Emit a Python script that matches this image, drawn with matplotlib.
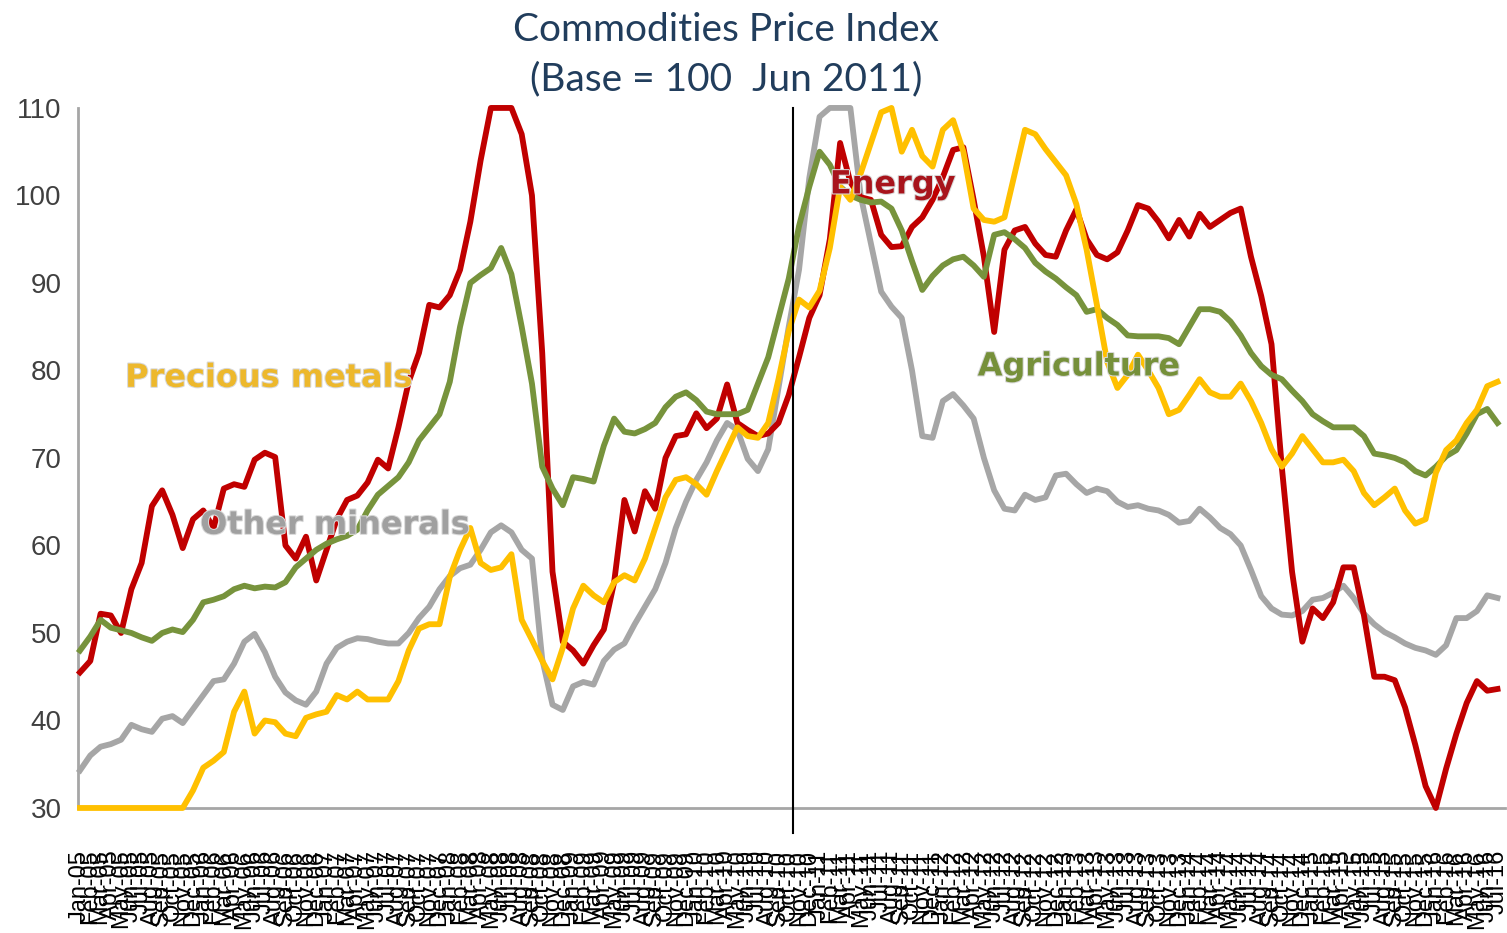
import matplotlib.pyplot as plt
import matplotlib.patheffects as pe
import pandas as pd

plt.rcParams["font.family"] = ["Liberation Sans", "DejaVu Sans"]

# monthly labels, Jan 2005 .. Jul 2016
months = pd.date_range("2005-01-01", periods=139, freq="MS").strftime("%b-%y").tolist()

energy = [
    45.5, 46.8, 52.2, 52.0, 50.0, 55.0, 58.0, 64.5, 66.3, 63.5,
    59.7, 63.0, 64.0, 62.0, 66.5, 67.0, 66.7, 69.8, 70.6, 70.1,
    60.0, 58.5, 61.0, 56.0, 59.5, 63.0, 65.2, 65.7, 67.2, 69.8,
    68.8, 73.5, 78.7, 82.0, 87.5, 87.2, 88.6, 91.5, 97.0, 104.0,
    110.0, 110.0, 110.0, 107.0, 100.0, 82.0, 57.0, 49.0, 48.0, 46.5,
    48.6, 50.4, 55.8, 65.2, 61.6, 66.2, 64.2, 70.0, 72.5, 72.7,
    75.1, 73.4, 74.5, 78.4, 74.0, 73.2, 72.5, 72.8, 74.0, 77.2,
    81.5, 86.0, 88.6, 95.0, 106.0, 101.5, 99.8, 99.5, 95.5, 94.1,
    94.2, 96.4, 97.5, 99.5, 102.1, 105.2, 105.5, 99.5, 93.0, 84.4,
    93.8, 96.0, 96.4, 94.5, 93.2, 93.0, 96.0, 98.4, 95.0, 93.2,
    92.7, 93.5, 96.0, 98.9, 98.5, 97.0, 95.1, 97.2, 95.3, 97.9,
    96.4, 97.2, 98.0, 98.5, 93.0, 88.5, 83.0, 69.0, 57.0, 49.0,
    52.8, 51.7, 53.5, 57.5, 57.5, 52.0, 45.0, 45.0, 44.6, 41.5,
    37.2, 32.5, 30.0, 34.5, 38.5, 42.0, 44.5, 43.4, 43.6,
]

agriculture = [
    48.0, 49.6, 51.5, 50.6, 50.3, 50.0, 49.5, 49.1, 50.0, 50.4,
    50.1, 51.5, 53.5, 53.8, 54.2, 55.0, 55.4, 55.1, 55.3, 55.2,
    55.8, 57.5, 58.5, 59.5, 60.2, 60.7, 61.1, 61.8, 64.0, 65.8,
    66.8, 67.8, 69.5, 72.0, 73.5, 75.0, 78.7, 85.0, 90.0, 90.9,
    91.7, 94.0, 91.0, 85.0, 78.5, 69.0, 66.5, 64.6, 67.8, 67.6,
    67.3, 71.4, 74.5, 73.0, 72.8, 73.3, 74.0, 75.8, 77.0, 77.5,
    76.6, 75.3, 75.0, 75.0, 75.0, 75.5, 78.5, 81.5, 86.0, 90.5,
    96.5, 101.0, 105.0, 103.5, 101.0, 100.0, 99.5, 99.2, 99.3, 98.5,
    96.0, 92.5, 89.2, 90.8, 92.0, 92.7, 93.0, 92.0, 90.7, 95.5,
    95.8, 95.0, 94.0, 92.3, 91.3, 90.5, 89.5, 88.6, 86.7, 87.0,
    86.0, 85.2, 84.0, 83.9, 83.9, 83.9, 83.7, 83.0, 85.0, 87.0,
    87.0, 86.7, 85.6, 84.0, 82.0, 80.5, 79.5, 79.0, 77.7, 76.5,
    75.0, 74.2, 73.5, 73.5, 73.5, 72.5, 70.5, 70.3, 70.0, 69.5,
    68.5, 68.0, 69.0, 70.2, 70.9, 72.8, 75.0, 75.6, 74.0,
]

other_minerals = [
    34.3, 36.0, 37.0, 37.3, 37.8, 39.5, 39.0, 38.7, 40.2, 40.5,
    39.7, 41.3, 42.9, 44.5, 44.7, 46.5, 49.0, 49.9, 47.8, 45.0,
    43.2, 42.3, 41.8, 43.3, 46.5, 48.3, 49.0, 49.4, 49.3, 49.0,
    48.8, 48.8, 50.0, 51.7, 53.0, 55.0, 56.5, 57.4, 57.8, 59.5,
    61.5, 62.3, 61.5, 59.5, 58.5, 47.0, 41.8, 41.2, 43.9, 44.4,
    44.1, 46.8, 48.1, 48.8, 51.0, 53.0, 55.0, 58.0, 62.0, 65.0,
    67.5, 69.5, 72.0, 74.0, 73.2, 69.9, 68.5, 71.0, 78.0, 85.0,
    91.5, 102.0, 109.0, 110.0, 110.0, 110.0, 100.0, 94.5, 89.0, 87.3,
    86.0, 80.0, 72.5, 72.3, 76.5, 77.3, 76.0, 74.5, 70.0, 66.3,
    64.2, 64.0, 65.8, 65.2, 65.5, 68.0, 68.2, 67.0, 66.0, 66.5,
    66.2, 65.0, 64.4, 64.6, 64.2, 64.0, 63.5, 62.6, 62.8, 64.2,
    63.2, 62.0, 61.3, 60.0, 57.2, 54.2, 52.8, 52.1, 52.0, 52.5,
    53.8, 54.0, 54.6, 55.4, 54.0, 52.2, 51.0, 50.1, 49.5, 48.8,
    48.3, 48.0, 47.5, 48.6, 51.7, 51.7, 52.5, 54.3, 54.0,
]

precious_metals = [
    30.0, 30.0, 30.0, 30.0, 30.0, 30.0, 30.0, 30.0, 30.0, 30.0,
    30.0, 32.0, 34.6, 35.4, 36.4, 41.0, 43.3, 38.5, 40.0, 39.8,
    38.5, 38.2, 40.3, 40.7, 41.0, 42.9, 42.4, 43.3, 42.4, 42.4,
    42.4, 44.5, 48.0, 50.5, 51.0, 51.0, 56.4, 59.5, 62.0, 58.0,
    57.2, 57.5, 59.0, 51.5, 49.2, 46.8, 44.7, 48.3, 52.8, 55.4,
    54.3, 53.5, 55.8, 56.6, 56.0, 58.5, 62.0, 65.5, 67.5, 67.8,
    67.0, 65.8, 68.5, 71.0, 73.5, 72.5, 72.3, 74.0, 79.0, 84.5,
    88.1, 87.2, 89.1, 94.0, 101.0, 99.5, 102.5, 106.0, 109.5, 110.0,
    105.0, 107.5, 104.5, 103.3, 107.5, 108.6, 105.0, 98.5, 97.2, 97.0,
    97.5, 102.5, 107.5, 107.0, 105.3, 103.8, 102.3, 99.0, 93.8, 87.5,
    81.0, 78.0, 79.5, 81.8, 80.0, 78.0, 75.0, 75.5, 77.2, 79.0,
    77.5, 77.0, 77.0, 78.5, 76.5, 74.0, 71.0, 69.0, 70.5, 72.5,
    71.0, 69.5, 69.5, 69.8, 68.5, 66.0, 64.6, 65.5, 66.5, 64.0,
    62.5, 63.0, 68.3, 70.9, 72.0, 74.0, 75.5, 78.2, 78.7,
]

# where the base-period marker was drawn on the original
base_pos = 69.4

fig = plt.figure(figsize=(15.07, 9.33), dpi=100)
ax = fig.add_axes([0.0518, 0.134, 0.947, 0.7503])

x = list(range(len(months)))
ax.plot(x, other_minerals, color="#A6A6A6", lw=4.2, zorder=2, clip_on=False)
ax.plot(x, energy, color="#C00000", lw=4.2, zorder=3, clip_on=False)
ax.plot(x, agriculture, color="#77933C", lw=4.2, zorder=4, clip_on=False)
ax.plot(x, precious_metals, color="#FFC000", lw=4.2, zorder=5, clip_on=False)

ax.axvline(base_pos, ymin=-0.036, ymax=1.0, color="black", lw=1.5,
           zorder=6, clip_on=False)

# series names written on the chart
labels = [
    ("Precious metals", 4.4, 79.1, "#EDB82C"),
    ("Other minerals", 11.7, 62.3, "#A0A0A0"),
    ("Energy", 73.0, 101.2, "#A8141C"),
    ("Agriculture", 87.4, 80.4, "#76903A"),
]
for name, lx, ly, col in labels:
    ax.text(lx, ly, name, color=col, fontsize=23, fontweight="bold",
            family="DejaVu Sans", ha="left", va="center", zorder=7,
            path_effects=[pe.withStroke(linewidth=1.5, foreground="#d8d8d8")])

ax.set_xlim(-0.19, 138.75)
ax.set_ylim(30, 110)
ax.set_yticks(range(30, 111, 10))
ax.set_xticks(x)
ax.set_xticklabels(months, rotation=90, fontsize=17)

ax.tick_params(axis="y", length=0, pad=12, labelsize=20, labelcolor="#404040")
ax.tick_params(axis="x", length=0, pad=30, labelcolor="black")

for side in ["top", "right"]:
    ax.spines[side].set_visible(False)
for side in ["left", "bottom"]:
    ax.spines[side].set_color("#A6A6A6")
    ax.spines[side].set_linewidth(2)

fig.text(0.482, 0.968, "Commodities Price Index", ha="center", va="center",
         fontsize=28, color="#213D5C", family=["Lato", "DejaVu Sans"])
fig.text(0.482, 0.915, "(Base = 100  Jun 2011)", ha="center", va="center",
         fontsize=28, color="#213D5C", family=["Lato", "DejaVu Sans"])

fig.savefig("out.png", dpi=100)
plt.close(fig)
